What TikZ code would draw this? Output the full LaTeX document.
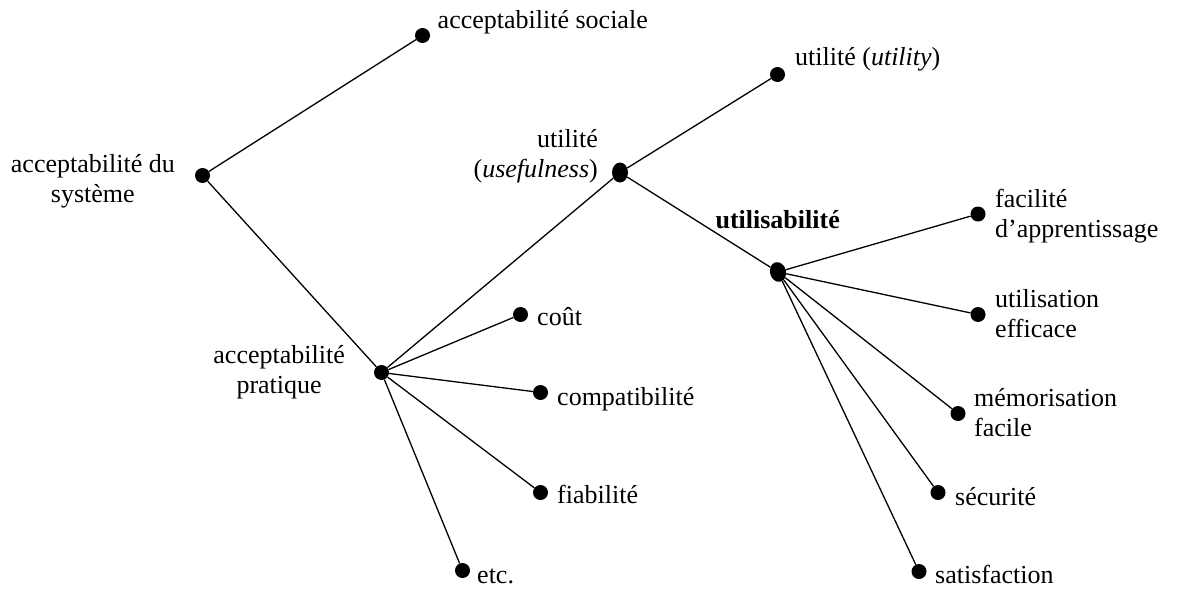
\documentclass[tikz,border=0pt]{standalone}
\usepackage{fontspec}
\setmainfont{Liberation Serif}
\usetikzlibrary{positioning, shapes.geometric}
\tikzset{
x=1pt, y=-1pt, % one unit per pixel, y going down
dot/.style={circle, fill, inner sep=0pt, minimum size=15pt}, % the black points
longdot/.style={ellipse, fill, inner sep=0pt, minimum width=16pt, minimum height=20pt}, % the stretched points
lbl/.style={inner sep=0pt, font=\fontsize{26}{30}\selectfont}, % text set next to a point
branch/.style={line width=1.3pt}, % the lines of the tree
}

\begin{document}
\begin{tikzpicture}
                \useasboundingbox (0,0) rectangle (1177,589);

                \node[dot] (sys) at (202.5,175.5) {};
                \node[dot] (social) at (422.5,35.5) {};
                \node[dot] (pratique) at (381.5,372.5) {};
                \node[longdot] (usef) at (620,172.5) {};
                \node[dot] (utility) at (777.5,74.5) {};
                \node[longdot, rotate=15] (utilisab) at (778,272) {};
                \node[dot] (cout) at (520.5,314.5) {};
                \node[dot] (compat) at (540.5,392.5) {};
                \node[dot] (fiab) at (540.5,492.5) {};
                \node[dot] (etc) at (462.5,570.5) {};
                \node[dot] (facil) at (978,214) {};
                \node[dot] (effic) at (978,314.5) {};
                \node[dot] (memo) at (958,413.5) {};
                \node[dot] (secu) at (938,492.5) {};
                \node[dot] (satis) at (919,571.5) {};

                % two-line labels: base is the last line
                \node[lbl, anchor=base east, align=center] (sysl) at ([xshift=-27.5pt, yshift=-26.5pt]sys.center) {acceptabilité du\\système};
                \node[lbl, anchor=base west] (sociall) at ([xshift=15pt, yshift=7pt]social.center) {acceptabilité sociale};
                \node[lbl, anchor=base east, align=center] (pratiquel) at ([xshift=-36.5pt, yshift=-20.5pt]pratique.center) {acceptabilité\\pratique};
                \node[lbl, anchor=base east, align=right] (usefl) at ([xshift=-22pt, yshift=-4.5pt]usef.center) {utilité\\(\textit{usefulness})};
                \node[lbl, anchor=base west] (utilityl) at ([xshift=17.5pt, yshift=9.5pt]utility.center) {utilité (\textit{utility})};
                \node[lbl, anchor=base east, font=\fontsize{26}{30}\selectfont\bfseries] (utilisabl) at ([xshift=62pt, yshift=44pt]utilisab.center) {utilisabilité};
                \node[lbl, anchor=base west] (coutl) at ([xshift=16.5pt, yshift=-10.5pt]cout.center) {coût};
                \node[lbl, anchor=base west] (compatl) at ([xshift=16.5pt, yshift=-12.5pt]compat.center) {compatibilité};
                \node[lbl, anchor=base west] (fiabl) at ([xshift=16.5pt, yshift=-10.5pt]fiab.center) {fiabilité};
                \node[lbl, anchor=base west] (etcl) at ([xshift=14.5pt, yshift=-12.5pt]etc.center) {etc.};
                \node[lbl, anchor=base west, align=left] (facill) at ([xshift=17pt, yshift=-23pt]facil.center) {facilité\\d’apprentissage};
                \node[lbl, anchor=base west, align=left] (efficl) at ([xshift=17pt, yshift=-22.5pt]effic.center) {utilisation\\efficace};
                \node[lbl, anchor=base west, align=left] (memol) at ([xshift=16pt, yshift=-22.5pt]memo.center) {mémorisation\\facile};
                \node[lbl, anchor=base west] (secul) at ([xshift=17pt, yshift=-12.5pt]secu.center) {sécurité};
                \node[lbl, anchor=base west] (satisl) at ([xshift=16pt, yshift=-11.5pt]satis.center) {satisfaction};

                \draw[branch]
                    (sys) -- (social)
                    (sys) -- (pratique)
                    (pratique) -- (usef)
                    (pratique) -- (cout)
                    (pratique) -- (compat)
                    (pratique) -- (fiab)
                    (pratique) -- (etc)
                    (usef) -- (utility)
                    (usef) -- (utilisab)
                    (utilisab) -- (facil)
                    (utilisab) -- (effic)
                    (utilisab) -- (memo)
                    (utilisab) -- (secu)
                    (utilisab) -- (satis)
                    ;
                \end{tikzpicture}
\end{document}
